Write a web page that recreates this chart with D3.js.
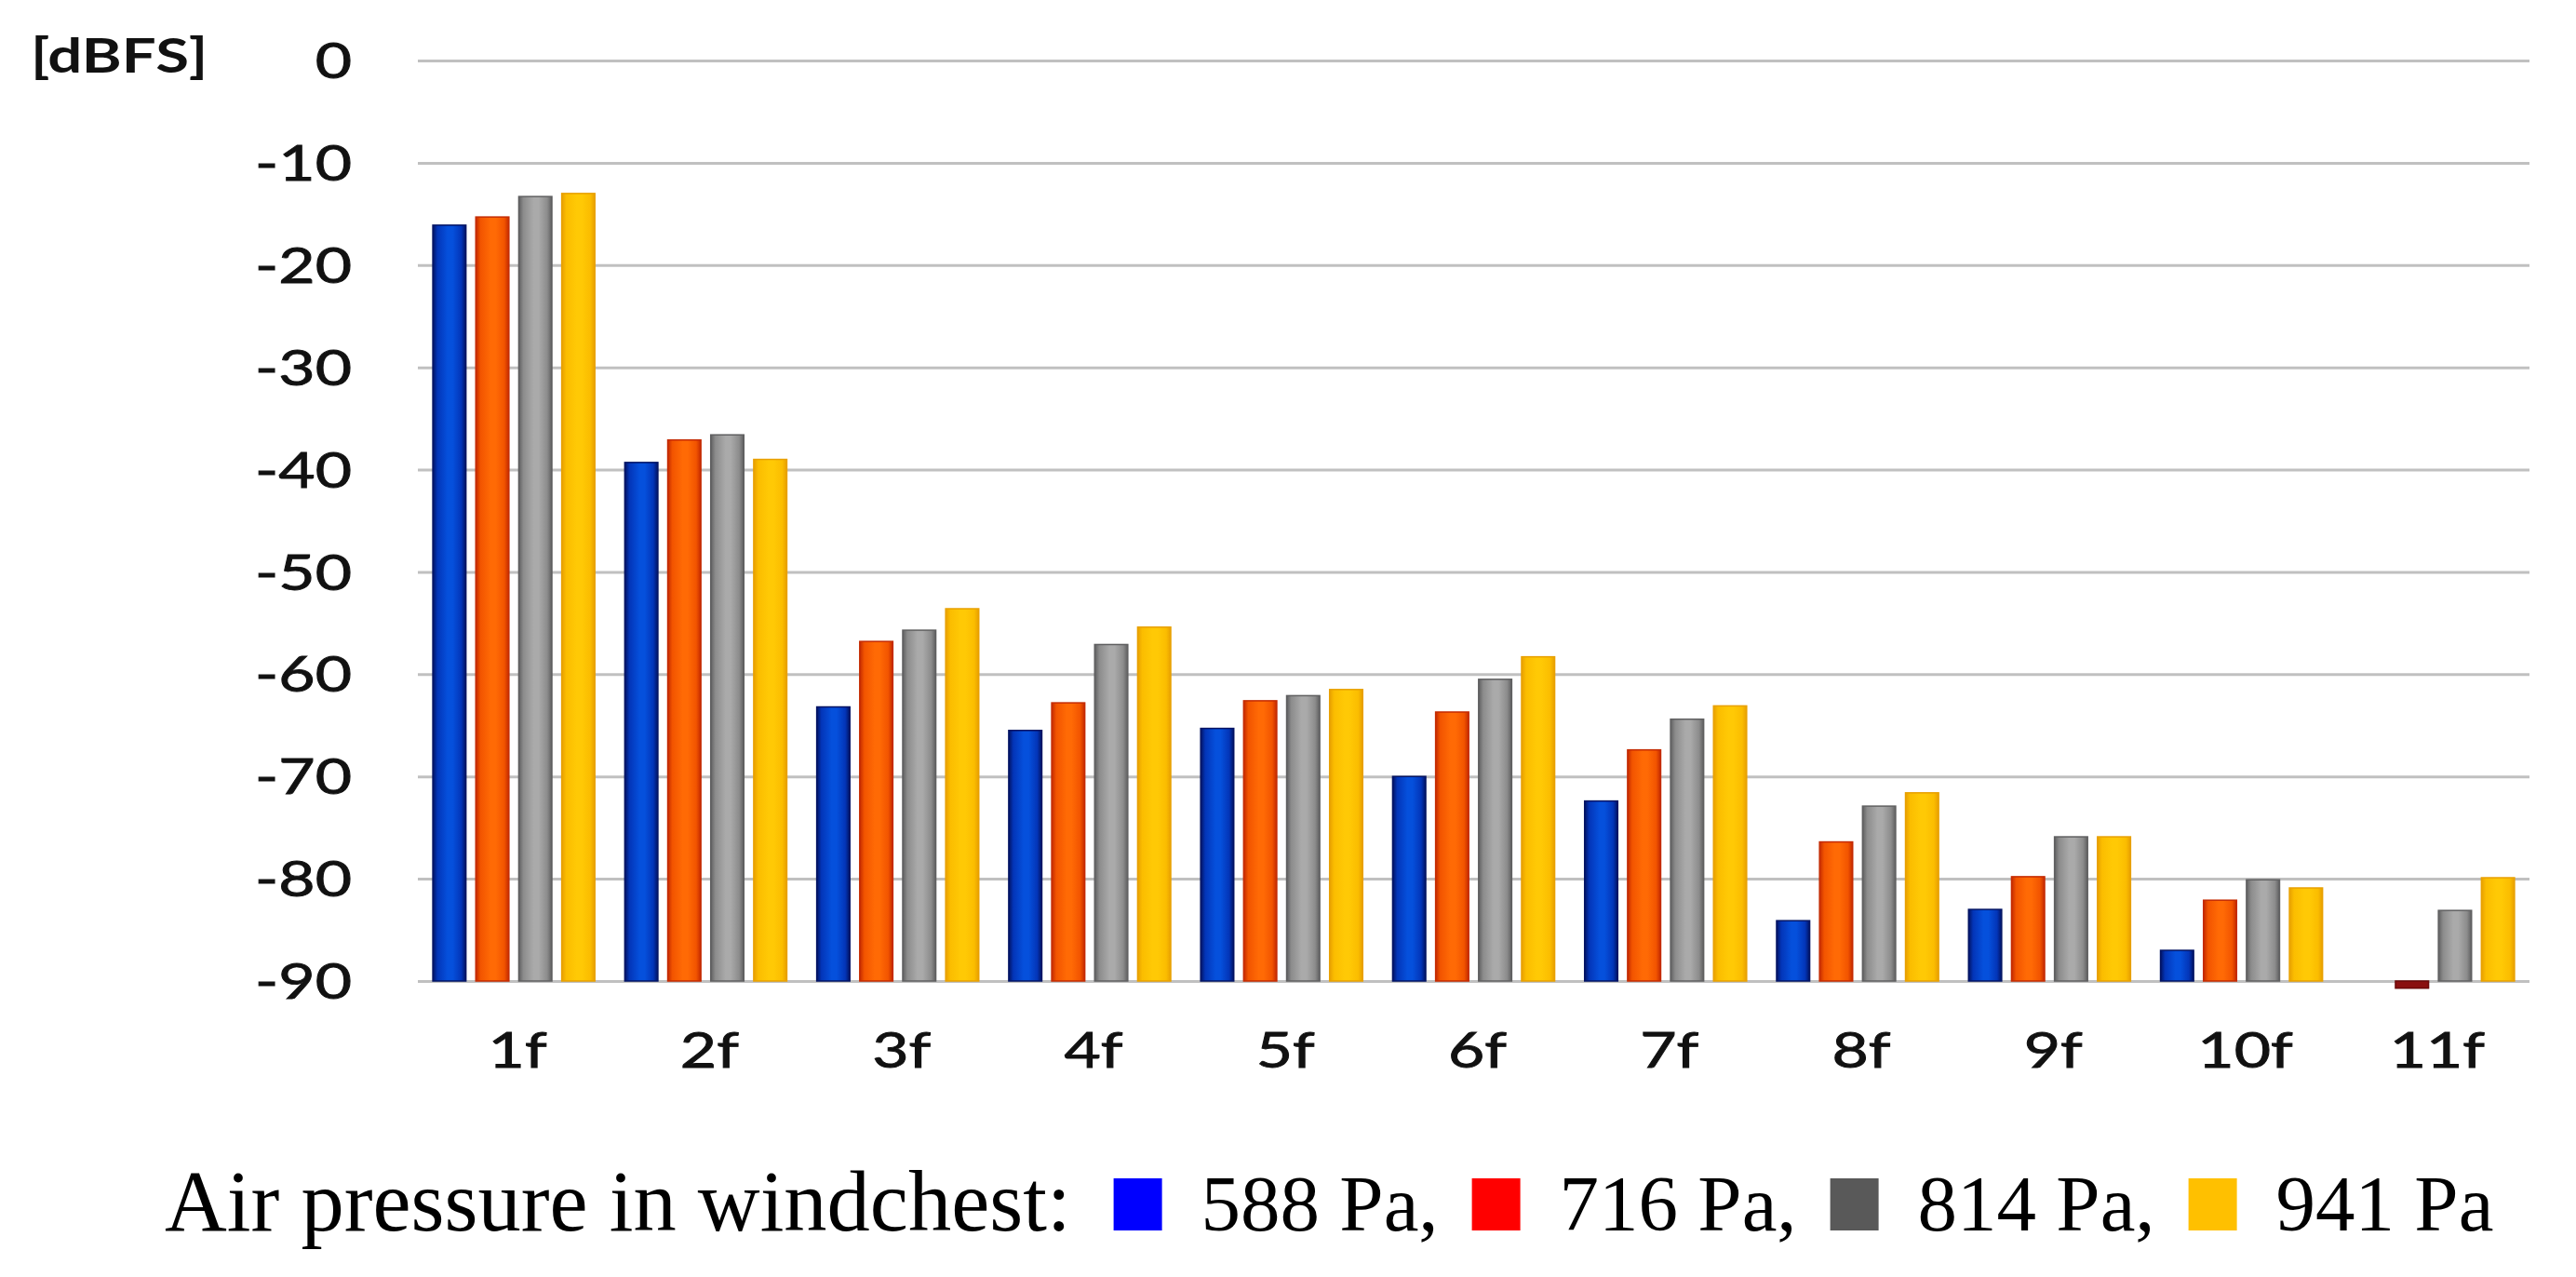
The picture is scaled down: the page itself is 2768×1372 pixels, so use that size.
<!DOCTYPE html>
<html>
<head>
<meta charset="utf-8">
<script src="https://cdn.jsdelivr.net/npm/d3@7"></script>
<style>
html,body{margin:0;padding:0;background:#fff;}
svg{display:block;}
</style>
</head>
<body>
<svg id="chart" width="2768" height="1372"></svg>
<script>
// ---- data ----
const categories = ["1f","2f","3f","4f","5f","6f","7f","8f","9f","10f","11f"];
const seriesNames = ["588 Pa","716 Pa","814 Pa","941 Pa"];
const s588 = [-16.1,-39.3,-63.2,-65.5,-65.3,-70.0,-72.4,-84.1,-83.0,-87.0,null];
const s716 = [-15.3,-37.1,-56.8,-62.8,-62.6,-63.7,-67.4,-76.4,-79.8,-82.1,-90.7];
const s814 = [-13.3,-36.6,-55.7,-57.1,-62.1,-60.5,-64.4,-72.9,-75.9,-80.1,-83.1];
const s941 = [-13.0,-39.0,-53.6,-55.4,-61.5,-58.3,-63.1,-71.6,-75.9,-80.9,-79.9];
const yTicks = [0,-10,-20,-30,-40,-50,-60,-70,-80,-90];
const unitLabel = "[dBFS]";
const legendTitle = "Air pressure in windchest:";

// ---- styles ----
const barStyles = [
  {dark:"#021363", mid:"#0335b8", light:"#0550dc"},
  {dark:"#c42a00", mid:"#f25400", light:"#ff6a05"},
  {dark:"#5f5f60", mid:"#8c8c8c", light:"#aaaaaa"},
  {dark:"#e8a000", mid:"#fbbd00", light:"#ffc905"}
];
const legendColors = ["#0000ff","#ff0000","#595959","#ffc000"];
const textStretch = 1.28;
const sansFont = "Lato, 'Open Sans', sans-serif";

const svg = d3.select("#chart");
const plot = {left:449, right:2718, top:65, bottom:1054};

const x0 = d3.scaleBand().domain(categories).range([plot.left, plot.right]).paddingInner(0).paddingOuter(0);
const bw = x0.bandwidth();
const x1 = d3.scaleBand().domain(seriesNames).range([bw*0.078, bw*0.922]).paddingInner(0.23).paddingOuter(0);
const y = d3.scaleLinear().domain([-90,0]).range([plot.bottom, plot.top]);

// gradients
const defs = svg.append("defs");
barStyles.forEach((s,i)=>{
  const g = defs.append("linearGradient").attr("id","g"+i).attr("x1","0").attr("x2","1").attr("y1","0").attr("y2","0");
  [[0,s.dark],[0.14,s.mid],[0.45,s.light],[0.6,s.light],[0.86,s.mid],[1,s.dark]].forEach(([o,c])=>{
    g.append("stop").attr("offset",o).attr("stop-color",c);
  });
});

// gridlines
const yAxis = d3.axisLeft(y).tickValues(yTicks).tickSize(-(plot.right-plot.left)).tickFormat("");
const ga = svg.append("g").attr("transform",`translate(${plot.left},0)`).call(yAxis);
ga.select(".domain").remove();
ga.selectAll(".tick line").attr("stroke","#c0c0c0").attr("stroke-width",3);

// y tick labels
const ylab = svg.append("g");
yTicks.forEach(t=>{
  ylab.append("g").attr("transform",`translate(378,${y(t)}) scale(${textStretch},1)`)
    .append("text").attr("text-anchor","end").attr("dy","0.36em")
    .attr("font-family",sansFont).attr("font-size",53).attr("fill","#111")
    .attr("stroke","#111").attr("stroke-width",0.9)
    .text(String(t));
});

// unit label
svg.append("g").attr("transform",`translate(33,78) scale(${textStretch},1)`)
  .append("text").attr("font-family",sansFont).attr("font-weight","bold")
  .attr("font-size",51).attr("fill","#111").text(unitLabel);

// bars
const seriesData = [s588,s716,s814,s941];
const groups = svg.append("g").selectAll("g").data(categories).join("g")
  .attr("transform",d=>`translate(${x0(d)},0)`);
groups.selectAll("rect").data((c,ci)=>seriesData.map((arr,si)=>({s:seriesNames[si],si,v:arr[ci]})).filter(d=>d.v!==null))
  .join("rect")
  .attr("x",d=>x1(d.s))
  .attr("width",x1.bandwidth())
  .attr("y",d=>Math.min(y(d.v),y(-90)))
  .attr("height",d=>Math.abs(y(-90)-y(d.v)))
  .attr("fill",d=>d.v < -90 ? "#8a1010" : `url(#g${d.si})`)
  .attr("stroke",d=>d.v < -90 ? "#6a0808" : barStyles[d.si].dark)
  .attr("stroke-width",1.5);

// x labels
const xl = svg.append("g");
categories.forEach(c=>{
  xl.append("g").attr("transform",`translate(${x0(c)+bw/2+4},1147) scale(${textStretch},1)`)
    .append("text").attr("text-anchor","middle")
    .attr("font-family",sansFont).attr("font-size",53).attr("fill","#111")
    .attr("stroke","#111").attr("stroke-width",0.9)
    .text(c);
});

// legend (flow layout)
const lg = svg.append("g").attr("font-family","'Liberation Serif', 'Times New Roman', serif").attr("fill","#000");
const baseY = 1322;
let cx = 177;
const t0 = lg.append("text").attr("x",cx).attr("y",baseY).attr("font-size",92.5).text(legendTitle);
cx += t0.node().getComputedTextLength() + 46;
const sq = 56;
seriesNames.forEach((n,i)=>{
  lg.append("rect").attr("x",cx).attr("y",baseY-sq).attr("width",sq-4).attr("height",sq).attr("fill",legendColors[i]);
  cx += sq + 38;
  const label = n + (i<seriesNames.length-1 ? "," : "");
  const t = lg.append("text").attr("x",cx).attr("y",baseY).attr("font-size",85).text(label);
  cx += t.node().getComputedTextLength() + 36;
});
</script>
</body>
</html>
